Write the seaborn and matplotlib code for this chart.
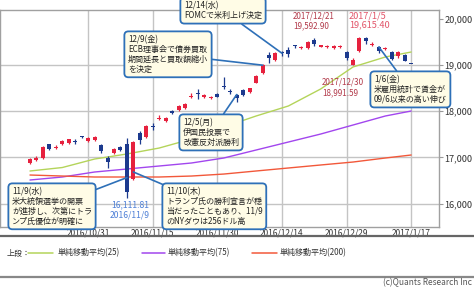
import matplotlib
matplotlib.use("Agg")
import matplotlib.pyplot as plt
import seaborn as sns
import pandas as pd
from matplotlib.lines import Line2D

# ---------------- data ----------------
dates = ["10/18", "10/19", "10/20", "10/21", "10/24", "10/25", "10/26", "10/27", "10/28", "10/31",
         "11/1", "11/2", "11/4", "11/7", "11/8", "11/9", "11/10", "11/11", "11/14", "11/15",
         "11/16", "11/17", "11/18", "11/21", "11/22", "11/24", "11/25", "11/28", "11/29", "11/30",
         "12/1", "12/2", "12/5", "12/6", "12/7", "12/8", "12/9", "12/12", "12/13", "12/14",
         "12/15", "12/16", "12/19", "12/20", "12/21", "12/22", "12/26", "12/27", "12/28", "12/29",
         "12/30", "1/4", "1/5", "1/6", "1/10", "1/11", "1/12", "1/13", "1/16", "1/17"]
opens = [16870, 16950, 16985, 17280, 17200, 17285, 17310, 17345, 17460, 17350,
         17370, 17270, 16990, 17090, 17230, 17290, 16540, 17530, 17445, 17690,
         17830, 17790, 18010, 18030, 18070, 18310, 18400, 18310, 18280, 18370,
         18540, 18440, 18360, 18460, 18420, 18610, 18830, 19220, 19110, 19270,
         19320, 19430, 19370, 19370, 19540, 19400, 19390, 19370, 19390, 19280,
         19000, 19298, 19580, 19440, 19390, 19350, 19280, 19190, 19220, 19040]
highs = [16980, 17030, 17250, 17300, 17260, 17380, 17400, 17400, 17470, 17440,
         17470, 17300, 17020, 17200, 17250, 17420, 17360, 17580, 17700, 17750,
         17910, 17880, 18030, 18130, 18180, 18390, 18480, 18380, 18320, 18400,
         18746, 18480, 18380, 18480, 18510, 18780, 19030, 19280, 19280, 19300,
         19390, 19440, 19410, 19520, 19592.90, 19440, 19430, 19440, 19430, 19300,
         19150, 19600, 19615.40, 19490, 19420, 19390, 19300, 19300, 19240, 19045]
lows = [16850, 16930, 16970, 17150, 17180, 17270, 17290, 17290, 17430, 17340,
        17360, 17090, 16780, 17070, 17130, 16111.81, 16520, 17300, 17420, 17590,
        17800, 17760, 17950, 18000, 18050, 18280, 18260, 18290, 18260, 18300,
        18480, 18380, 18200, 18330, 18400, 18600, 18810, 19050, 19080, 19200,
        19180, 19370, 19340, 19350, 19420, 19380, 19370, 19350, 19370, 19100,
        18991.59, 19280, 19450, 19420, 19250, 19330, 19110, 19150, 19080, 19035]
closes = [16963, 16998, 17235, 17184, 17234, 17365, 17391, 17336, 17446, 17425,
          17442, 17134, 16905, 17177, 17171, 16251.54, 17344, 17375, 17672, 17668,
          17862, 17863, 17967, 18106, 18163, 18333, 18381, 18357, 18307, 18308,
          18513, 18426, 18275, 18361, 18497, 18765, 18996, 19155, 19250, 19254,
          19230, 19401, 19392, 19495, 19444, 19428, 19397, 19420, 19402, 19145,
          19114, 19594, 19520, 19454, 19301, 19365, 19135, 19287, 19095, 19040]

# moving averages read at sample bars
ma_idx = [0, 5, 10, 15, 20, 25, 30, 35, 40, 45, 50, 55, 59]
ma25 = [16706, 16781, 16965, 17074, 17203, 17398, 17658, 17896, 18113, 18481, 18957, 19173, 19281]
ma75 = [16511, 16576, 16684, 16749, 16814, 16879, 16987, 17160, 17333, 17506, 17701, 17896, 18004]
ma200 = [16619, 16597, 16576, 16576, 16576, 16597, 16640, 16706, 16771, 16836, 16900, 16987, 17052]

tick_dates = ["10/31", "11/15", "11/30", "12/14", "12/29", "1/17"]
tick_labels = ["2016/10/31", "2016/11/15", "2016/11/30", "2016/12/14", "2016/12/29", "2017/1/17"]
y_ticks = [16000, 17000, 18000, 19000, 20000]
y_grid = [16000, 17000, 18000, 19000]

legend_labels = ["単純移動平均(25)", "単純移動平均(75)", "単純移動平均(200)"]

# ---------------- style ----------------
sns.set_theme(style="white")
plt.rcParams['font.family'] = ['Noto Sans CJK JP', 'DejaVu Sans']

W, H = 474, 288
RED = '#E6213E'
BLUE = '#1C3A8E'
C25, C75, C200 = '#B4D45A', '#A246EE', '#F2583A'
BOXBLUE = '#2E70B8'
BOXFACE = '#FFFCE6'

fig = plt.figure(figsize=(W / 100, H / 100), dpi=100)
ax = fig.add_axes([0, 61 / H, 439 / W, 217 / H])

x = list(range(len(dates)))

# moving averages via seaborn
ma_df = pd.DataFrame({"i": ma_idx, "m25": ma25, "m75": ma75, "m200": ma200})
sns.lineplot(data=ma_df, x="i", y="m25", ax=ax, color=C25, lw=1.0, zorder=2)
sns.lineplot(data=ma_df, x="i", y="m75", ax=ax, color=C75, lw=1.0, zorder=2)
sns.lineplot(data=ma_df, x="i", y="m200", ax=ax, color=C200, lw=1.0, zorder=2)

# candles
for i in x:
    o, h, l, c = opens[i], highs[i], lows[i], closes[i]
    col = RED if c > o else BLUE
    ax.vlines(i, l, h, color=col, lw=0.9, zorder=3)
    bottom = min(o, c)
    height = max(abs(c - o), 22)
    if abs(c - o) < 22:
        bottom = (o + c) / 2 - 11
    ax.bar(i, height, bottom=bottom, width=0.62, color=col, lw=0, zorder=4)

ax.set_xlim(-4.64, 63.31)
ax.set_ylim(15494, 20190)

tick_pos = [dates.index(d) for d in tick_dates]
for p in tick_pos:
    ax.axvline(p, color='#C4C4C4', lw=1.0, zorder=0)
for g in y_grid:
    ax.axhline(g, color='#C4C4C4', lw=1.0, zorder=0)

ax.set_xticks(tick_pos)
ax.set_xticklabels(tick_labels, fontsize=6, color='#333333')
ax.yaxis.tick_right()
ax.set_yticks(y_ticks)
ax.set_yticklabels([f"{v:,}" for v in y_ticks], fontsize=6.6, color='#333333')
ax.tick_params(axis='y', length=3, width=0.8, color='#999999', pad=1, right=True)
ax.tick_params(axis='x', length=0, pad=1)
ax.set_xlabel("")
ax.set_ylabel("")
for s in ['top', 'right', 'bottom', 'left']:
    ax.spines[s].set_color('#A0A0A0')
    ax.spines[s].set_linewidth(1.0)

# ---------------- annotations ----------------
def fp(px, py):
    return (px, H - py)

box = dict(boxstyle='round,pad=0.45,rounding_size=0.5', fc=BOXFACE, ec=BOXBLUE, lw=1.3)
arrow = dict(arrowstyle='-', color=BOXBLUE, lw=1.2, shrinkA=0, shrinkB=0)
akw = dict(textcoords='figure pixels', fontsize=5.8, color='#222222', ha='left', va='top',
           bbox=box, arrowprops=arrow, linespacing=1.12, zorder=10, annotation_clip=False)

i_1214 = dates.index("12/14")
ax.annotate("12/14(水)\nFOMCで米利上げ決定", xy=(i_1214, closes[i_1214]),
            xytext=fp(184, 1), **akw)
i_129 = dates.index("12/9")
ax.annotate("12/9(金)\nECB理事会で債券買取\n期間延長と買取額縮小\nを決定", xy=(i_129, closes[i_129]),
            xytext=fp(128, 35), **akw)
i_125 = dates.index("12/5")
ax.annotate("12/5(月)\n伊国民投票で\n改憲反対派勝利", xy=(i_125, opens[i_125]),
            xytext=fp(183, 118), **akw)
i_119 = dates.index("11/9")
ax.annotate("11/9(水)\n米大統領選挙の開票\nが進捗し、次第にトラ\nンプ氏優位が明確に",
            xy=(i_119, closes[i_119] + 0.3 * (opens[i_119] - closes[i_119])),
            xytext=fp(12, 187), **akw)
i_1110 = dates.index("11/10")
ax.annotate("11/10(木)\nトランプ氏の勝利宣言が穏\n当だったこともあり、11/9\nのNYダウは256ドル高",
            xy=(i_1110, opens[i_1110] + 0.18 * (closes[i_1110] - opens[i_1110])),
            xytext=fp(166, 187), **akw)
i_110 = dates.index("1/10")
ax.annotate("1/6(金)\n米雇用統計で賃金が\n09/6以来の高い伸び", xy=(i_110, opens[i_110]),
            xytext=fp(374, 75), **akw)

# price labels
MAROON = '#B23A4A'
PINK = '#E2566A'
LBLUE = '#4D7FD6'
i_1221 = dates.index("12/21")
fig.text(293 / W, 1 - 11 / H, f"2017/12/21\n{highs[i_1221]:,.2f}", fontsize=5.8, color=MAROON,
         ha='left', va='top', linespacing=1.25)
i_15 = dates.index("1/5")
fig.text(349 / W, 1 - 11 / H, f"2017/1/5\n{highs[i_15]:,.2f}", fontsize=6.6, color=PINK,
         ha='left', va='top', linespacing=1.05)
i_1230 = dates.index("12/30")
fig.text(322 / W, 1 - 78 / H, f"2017/12/30\n{lows[i_1230]:,.2f}", fontsize=5.8, color=MAROON,
         ha='left', va='top', linespacing=1.25)
fig.text(130 / W, 1 - 200 / H, f"{lows[i_119]:,.2f}\n2016/11/9", fontsize=6.2, color=LBLUE,
         ha='center', va='top', linespacing=1.15)

# ---------------- footer / legend ----------------
fig.add_artist(Line2D([0, 1], [1 - 236 / H, 1 - 236 / H], color='#666666', lw=1.6))
fig.add_artist(Line2D([0, 1], [1 - 277 / H, 1 - 277 / H], color='#888888', lw=1.6))

fig.text(7 / W, 1 - 253 / H, "上段：", fontsize=5.8, color='#333333', ha='left', va='center')
for (x0, x1, tx), col, lab in zip([(28, 53, 58), (142, 165, 168), (252, 277, 280)],
                                   [C25, C75, C200], legend_labels):
    fig.add_artist(Line2D([x0 / W, x1 / W], [1 - 253 / H, 1 - 253 / H], color=col, lw=1.1))
    fig.text(tx / W, 1 - 253 / H, lab, fontsize=5.8, color='#333333', ha='left', va='center')

fig.text(472 / W, 1 - 282.5 / H, "(c)Quants Research Inc", fontsize=6.0, color='#555555',
         ha='right', va='center')

fig.savefig("out.png", dpi=100)
